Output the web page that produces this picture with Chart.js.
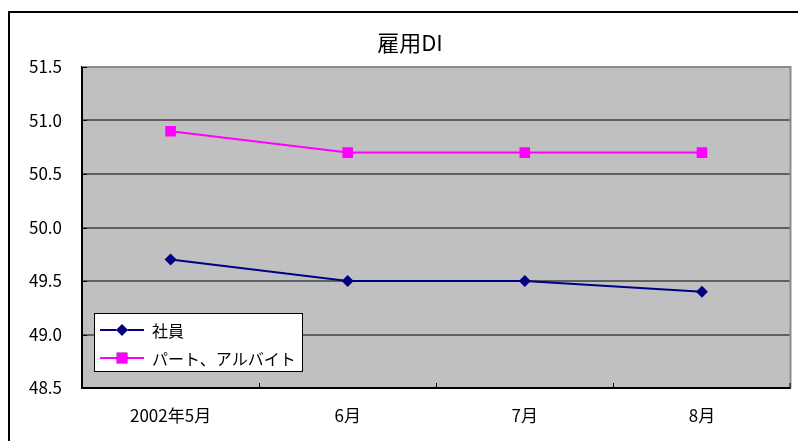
<!DOCTYPE html>
<html lang="ja">
<head>
<meta charset="utf-8">
<title>雇用DI</title>
<script src="https://cdn.jsdelivr.net/npm/chart.js@4/dist/chart.umd.min.js"></script>
<style>
  html, body { margin: 0; padding: 0; background: #fff; overflow: hidden; }
  canvas { display: block; }
</style>
</head>
<body>
<canvas id="chartDI" width="798" height="441"></canvas>
<script>
// データ
const meses = ["2002年5月", "6月", "7月", "8月"];
const seriesNomes = ["社員", "パート、アルバイト"];
const valoresShain = [49.7, 49.5, 49.5, 49.4];
const valoresPart = [50.9, 50.7, 50.7, 50.7];
const yMin = 48.5;
const yMax = 51.5;
const yPasso = 0.5;

const fonte = "'Noto Sans CJK JP', 'Noto Sans', sans-serif";

// fundo cinza da área do gráfico, moldura externa e bordas
const fundoPlugin = {
  id: "fundo",
  beforeDraw(chart) {
    const { ctx, chartArea: a } = chart;
    ctx.save();
    ctx.fillStyle = "#c0c0c0";
    ctx.fillRect(a.left, a.top, a.right - a.left, a.bottom - a.top);
    // moldura externa
    ctx.strokeStyle = "#000";
    ctx.lineWidth = 2;
    ctx.beginPath();
    ctx.moveTo(9, 460);
    ctx.lineTo(9, 12);
    ctx.lineTo(820, 12);
    ctx.stroke();
    ctx.restore();
  },
  afterDatasetsDraw(chart) {
    const { ctx, chartArea: a, scales } = chart;
    ctx.save();
    // borda superior e direita
    ctx.strokeStyle = "#8c8c8c";
    ctx.lineWidth = 2;
    ctx.beginPath();
    ctx.moveTo(a.left, a.top);
    ctx.lineTo(a.right, a.top);
    ctx.lineTo(a.right, a.bottom);
    ctx.stroke();
    // marcas internas
    ctx.strokeStyle = "#000";
    ctx.lineWidth = 1;
    ctx.beginPath();
    scales.y.ticks.forEach((t) => {
      const y = Math.round(scales.y.getPixelForValue(t.value)) + 0.5;
      ctx.moveTo(a.left, y);
      ctx.lineTo(a.left + 5, y);
    });
    for (let i = 0; i < meses.length; i++) {
      const x = i + 1 < meses.length
        ? Math.round((scales.x.getPixelForValue(i) + scales.x.getPixelForValue(i + 1)) / 2) + 0.5
        : a.right - 0.5;
      ctx.moveTo(x, a.bottom);
      ctx.lineTo(x, a.bottom - 5);
    }
    ctx.stroke();
    ctx.restore();
  },
};

// legenda dentro da área do gráfico
const legendaPlugin = {
  id: "legendaInterna",
  afterDraw(chart) {
    const { ctx } = chart;
    const bx = 94, by = 313, bw = 208, bh = 58;
    ctx.save();
    ctx.fillStyle = "#fff";
    ctx.fillRect(bx, by, bw, bh);
    ctx.strokeStyle = "#000";
    ctx.lineWidth = 1;
    ctx.strokeRect(bx + 0.5, by + 0.5, bw, bh);
    chart.data.datasets.forEach((ds, i) => {
      const cy = by + 17 + i * 28;
      ctx.strokeStyle = ds.borderColor;
      ctx.lineWidth = 2;
      ctx.beginPath();
      ctx.moveTo(bx + 6, cy);
      ctx.lineTo(bx + 50, cy);
      ctx.stroke();
      Chart.helpers.drawPoint(ctx, {
        pointStyle: ds.pointStyle,
        radius: ds.pointRadius,
        borderWidth: 0,
        rotation: 0,
      }, bx + 28, cy);
      ctx.fillStyle = ds.pointBackgroundColor;
      ctx.fill();
      ctx.fillStyle = "#000";
      ctx.font = "16px " + fonte;
      ctx.textBaseline = "middle";
      ctx.textAlign = "left";
      ctx.fillText(ds.label, bx + 58, cy + 1);
    });
    ctx.restore();
  },
};

new Chart(document.getElementById("chartDI").getContext("2d"), {
  type: "line",
  data: {
    labels: meses,
    datasets: [
      {
        label: seriesNomes[0],
        data: valoresShain,
        borderColor: "#000080",
        backgroundColor: "#000080",
        pointBackgroundColor: "#000080",
        pointBorderColor: "#000080",
        pointStyle: "rectRot",
        pointRadius: 6,
        pointBorderWidth: 0,
        borderWidth: 2,
        tension: 0,
      },
      {
        label: seriesNomes[1],
        data: valoresPart,
        borderColor: "#ff00ff",
        backgroundColor: "#ff00ff",
        pointBackgroundColor: "#ff00ff",
        pointBorderColor: "#ff00ff",
        pointStyle: "rect",
        pointRadius: 7.5,
        pointBorderWidth: 0,
        borderWidth: 2,
        tension: 0,
      },
    ],
  },
  options: {
    responsive: false,
    animation: false,
    layout: { padding: { left: 22, right: 0, top: 0, bottom: 0 } },
    plugins: {
      legend: { display: false },
      tooltip: { enabled: false },
      title: {
        display: true,
        text: "雇用DI",
        color: "#000",
        font: { family: fonte, size: 22, weight: "normal" },
        padding: { top: 29, bottom: 11.6 },
      },
    },
    scales: {
      x: {
        offset: true,
        grid: { display: false, drawTicks: false },
        border: { display: true, color: "#000", width: 2 },
        ticks: {
          color: "#000",
          padding: 17,
          font: { family: fonte, size: 17 },
        },
        afterFit(scale) {
          scale.height = 53;
        },
      },
      y: {
        min: yMin,
        max: yMax,
        grid: {
          drawTicks: false,
          lineWidth: 2,
          color: (c) => (c.tick && c.tick.value === yMax ? "#8c8c8c" : "#606060"),
        },
        border: { display: true, color: "#000", width: 2 },
        ticks: {
          stepSize: yPasso,
          color: "#000",
          padding: 20,
          font: { family: fonte, size: 17 },
          callback: (v) => Number(v).toFixed(1),
        },
        afterFit(scale) {
          scale.width = 60;
        },
      },
    },
  },
  plugins: [fundoPlugin, legendaPlugin],
});
</script>
</body>
</html>
